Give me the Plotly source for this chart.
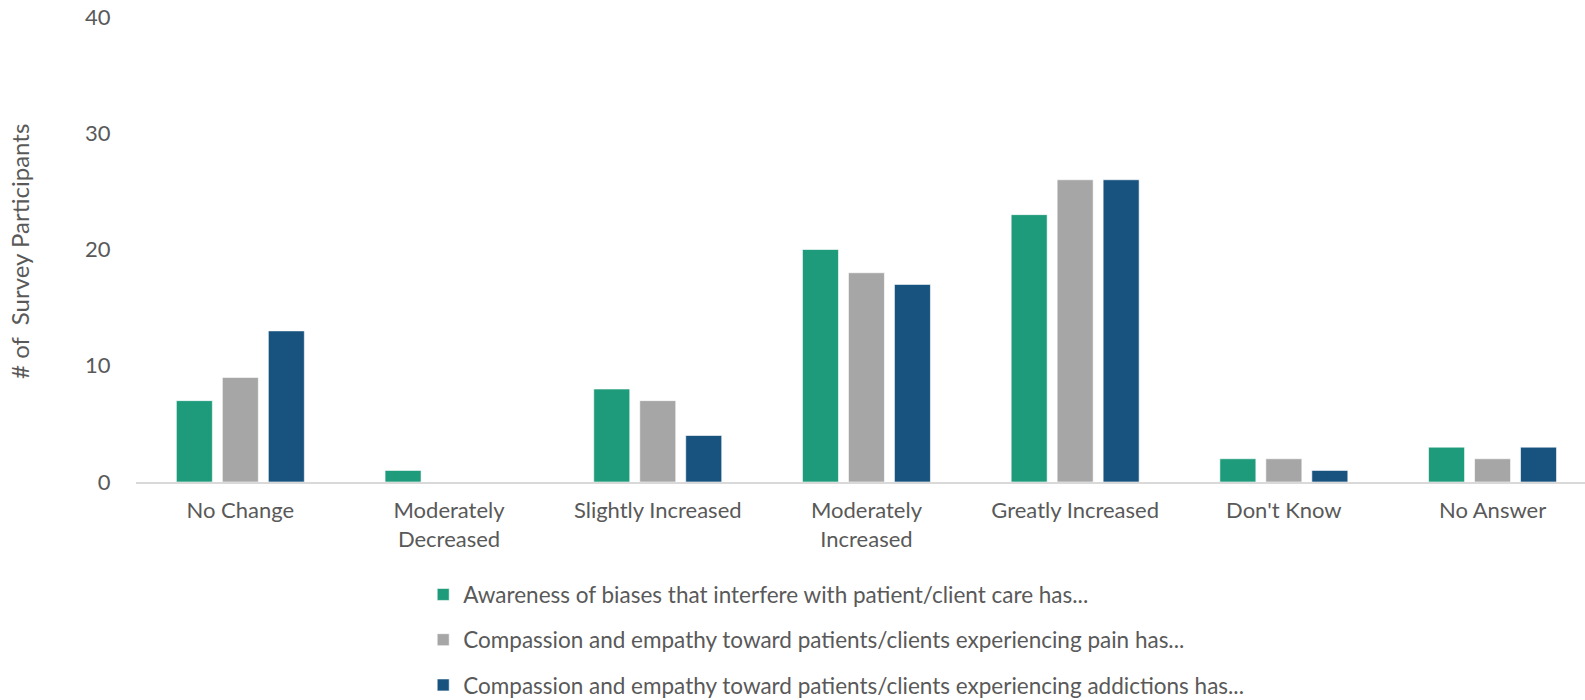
import plotly.graph_objects as go

categories = ["No Change", "Moderately<br>Decreased", "Slightly Increased",
              "Moderately<br>Increased", "Greatly Increased", "Don't Know", "No Answer"]
series_names = [
    "Awareness of biases that interfere with patient/client care has...",
    "Compassion and empathy toward patients/clients experiencing pain has...",
    "Compassion and empathy toward patients/clients experiencing addictions has...",
]
awareness = [7, 1, 8, 20, 23, 2, 3]
pain = [9, 0, 7, 18, 26, 2, 2]
addictions = [13, 0, 4, 17, 26, 1, 3]
colors = ["#1E9B7A", "#A6A6A6", "#17537E"]
y_ticks = [0, 10, 20, 30, 40]
y_title = "# of  Survey Participants"

FONT = "Lato, 'Open Sans', sans-serif"
TXT = "#595959"

fig = go.Figure()
for i, (name, vals) in enumerate(zip(series_names, [awareness, pain, addictions])):
    fig.add_trace(go.Bar(
        x=categories, y=vals, name=name,
        marker=dict(color=colors[i], line=dict(color="rgba(255,255,255,0.6)", width=1)),
        legendgroup=f"g{i}",
    ))

fig.update_layout(
    width=1585, height=700,
    margin=dict(l=136, r=0, t=17, b=218, autoexpand=False),
    paper_bgcolor="white", plot_bgcolor="white",
    barmode="group", bargap=0.339, bargroupgap=0.217,
    font=dict(family=FONT, size=22, color=TXT),
    legend=dict(
        orientation="v", xref="container", x=0.267, xanchor="left",
        yref="container", y=0.181, yanchor="top",
        font=dict(family=FONT, size=22.5, color=TXT),
        traceorder="grouped", tracegroupgap=13,
        itemwidth=30,
    ),
    showlegend=True,
    annotations=[dict(
        text=y_title, textangle=-90, xref="paper", yref="paper",
        x=-0.08, y=0.495, xanchor="center", yanchor="middle", showarrow=False,
        font=dict(family=FONT, size=24, color=TXT),
    )],
)
fig.update_xaxes(
    range=[-0.5, 6.443],
    showline=True, linecolor="#D9D9D9", linewidth=2, automargin=False,
    showgrid=False, ticks="outside", ticklen=8, tickcolor="rgba(0,0,0,0)",
    tickfont=dict(family=FONT, size=22, color=TXT),
)
fig.update_yaxes(
    range=[0, 40], tickvals=y_ticks, showgrid=False, zeroline=False, showline=False,
    automargin=False, ticklabeloverflow="allow",
    ticks="outside", ticklen=20, tickcolor="rgba(0,0,0,0)",
    tickfont=dict(family=FONT, size=22, color=TXT),
)

fig.write_html("out.html", config={"displayModeBar": False},
               post_script="document.body.style.margin='0';")
